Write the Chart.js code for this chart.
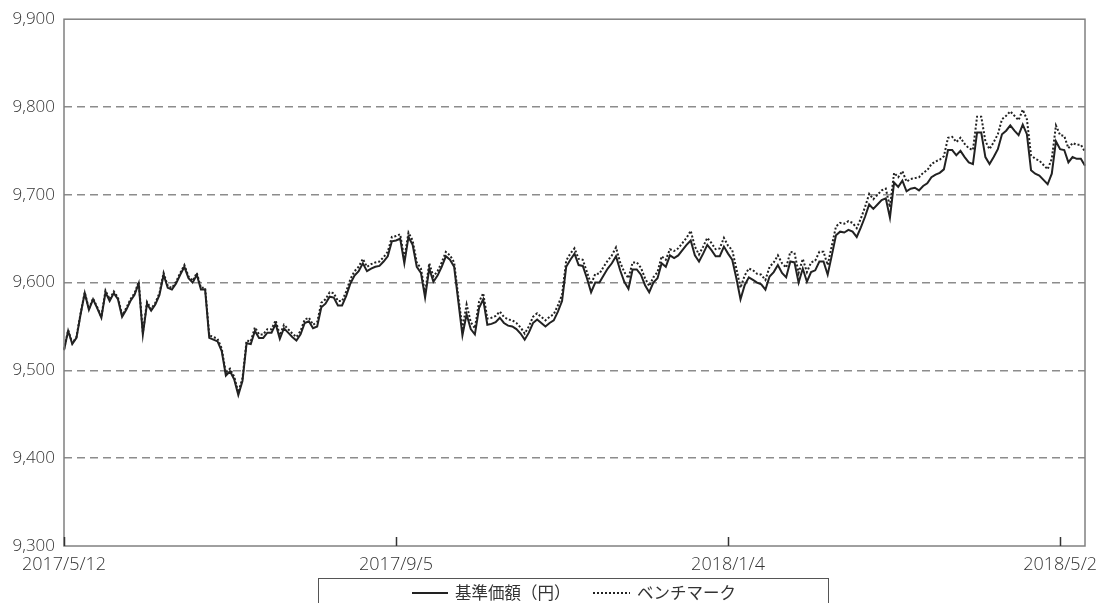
<!DOCTYPE html>
<html>
<head>
<meta charset="utf-8">
<script src="https://cdn.jsdelivr.net/npm/chart.js@4.4.0/dist/chart.umd.min.js"></script>
<style>
  html, body { margin: 0; padding: 0; background: #fff; }
</style>
</head>
<body>
<canvas id="chart" width="1101" height="603"></canvas>
<script>
// -------------------------------
// Data
// -------------------------------
const startDate = [2017, 5, 12];
// TSE closed days in the range (weekday holidays only)
const holidays = [
  "2017/7/17", "2017/8/11", "2017/9/18", "2017/10/9", "2017/11/3", "2017/11/23",
  "2018/1/1", "2018/1/2", "2018/1/3", "2018/1/8", "2018/2/12", "2018/3/21",
  "2018/4/30", "2018/5/3", "2018/5/4",
];
const tickLabels = ["2017/5/12", "2017/9/5", "2018/1/4", "2018/5/2"];
const yTicks = [9300, 9400, 9500, 9600, 9700, 9800, 9900];
const seriesNames = ["基準価額（円）", "ベンチマーク"];

const navValues = [
  9523, 9545, 9530, 9537, 9564, 9588, 9569, 9581, 9571, 9560,
  9589, 9579, 9588, 9581, 9561, 9569, 9579, 9586, 9599, 9541,
  9576, 9568, 9575, 9586, 9609, 9594, 9592, 9599, 9609, 9618,
  9605, 9600, 9609, 9592, 9592, 9537, 9535, 9533, 9522, 9494,
  9499, 9490, 9472, 9488, 9531, 9530, 9545, 9537, 9537, 9543,
  9543, 9553, 9536, 9548, 9543, 9538, 9534, 9541, 9554, 9556,
  9548, 9550, 9572, 9576, 9584, 9583, 9574, 9574, 9585, 9599,
  9608, 9613, 9622, 9613, 9616, 9618, 9619, 9624, 9630, 9647,
  9648, 9650, 9622, 9652, 9643, 9618, 9611, 9583, 9616, 9601,
  9608, 9618, 9630, 9626, 9618, 9579, 9540, 9564, 9547, 9541,
  9571, 9581, 9552, 9553, 9555, 9560, 9554, 9551, 9550, 9547,
  9542, 9535, 9543, 9554, 9558, 9554, 9550, 9554, 9557, 9567,
  9579, 9618, 9626, 9633, 9620, 9619, 9605, 9589, 9600, 9600,
  9608, 9616, 9622, 9630, 9614, 9601, 9593, 9615, 9615, 9609,
  9597, 9589, 9600, 9605, 9622, 9618, 9631, 9628, 9631, 9637,
  9643, 9648, 9631, 9624, 9633, 9643, 9637, 9630, 9630, 9641,
  9633, 9626, 9605, 9581, 9597, 9606, 9603, 9600, 9598, 9592,
  9607, 9612, 9620, 9611, 9606, 9624, 9623, 9600, 9616, 9601,
  9612, 9614, 9624, 9624, 9609, 9631, 9654, 9658, 9657, 9660,
  9658, 9652, 9663, 9675, 9689, 9684, 9689, 9694, 9696, 9674,
  9714, 9709, 9716, 9704, 9707, 9708, 9705, 9710, 9713, 9720,
  9723, 9725, 9729, 9751, 9751, 9745, 9750, 9743, 9737, 9735,
  9771, 9771, 9743, 9735, 9743, 9752, 9769, 9773, 9779, 9773,
  9768, 9780, 9769, 9728, 9724, 9722, 9717, 9712, 9724, 9761,
  9752, 9751, 9737, 9743, 9741, 9741, 9733,
];

const benchValues = [
  9524, 9546, 9531, 9538, 9565, 9589, 9570, 9582, 9572, 9561,
  9591, 9581, 9590, 9583, 9563, 9571, 9581, 9588, 9601, 9543,
  9578, 9570, 9577, 9588, 9611, 9596, 9594, 9601, 9611, 9620,
  9607, 9602, 9611, 9594, 9594, 9540, 9538, 9536, 9525, 9497,
  9502, 9493, 9475, 9491, 9534, 9533, 9549, 9541, 9541, 9547,
  9547, 9557, 9540, 9552, 9547, 9542, 9538, 9545, 9558, 9560,
  9552, 9555, 9577, 9581, 9589, 9588, 9579, 9579, 9590, 9604,
  9613, 9618, 9627, 9618, 9621, 9623, 9624, 9629, 9635, 9652,
  9653, 9655, 9627, 9657, 9648, 9623, 9616, 9588, 9622, 9607,
  9613, 9623, 9635, 9631, 9623, 9584, 9548, 9575, 9555, 9548,
  9578, 9588, 9559, 9560, 9562, 9567, 9561, 9558, 9557, 9554,
  9549, 9542, 9550, 9561, 9565, 9561, 9557, 9561, 9564, 9574,
  9586, 9625, 9633, 9639, 9627, 9626, 9612, 9598, 9610, 9610,
  9618, 9625, 9631, 9640, 9623, 9612, 9605, 9623, 9623, 9617,
  9605, 9596, 9606, 9612, 9630, 9626, 9638, 9636, 9639, 9645,
  9651, 9659, 9641, 9632, 9641, 9651, 9645, 9638, 9639, 9651,
  9642, 9637, 9616, 9594, 9608, 9616, 9614, 9610, 9609, 9603,
  9618, 9623, 9631, 9622, 9617, 9635, 9634, 9611, 9627, 9612,
  9623, 9625, 9635, 9635, 9620, 9642, 9664, 9668, 9667, 9670,
  9668, 9662, 9673, 9686, 9701, 9695, 9700, 9705, 9707, 9686,
  9725, 9720, 9727, 9715, 9718, 9719, 9720, 9725, 9728, 9735,
  9738, 9740, 9744, 9765, 9766, 9760, 9765, 9758, 9753, 9751,
  9789, 9789, 9761, 9752, 9760, 9769, 9786, 9790, 9795, 9790,
  9785, 9797, 9786, 9745, 9741, 9739, 9734, 9729, 9741, 9779,
  9768, 9767, 9753, 9759, 9757, 9757, 9749,
];

// -------------------------------
// Business-day labels
// -------------------------------
function fmt(d) {
  return d.getUTCFullYear() + "/" + (d.getUTCMonth() + 1) + "/" + d.getUTCDate();
}

function businessDays(start, count) {
  const out = [];
  const d = new Date(Date.UTC(start[0], start[1] - 1, start[2]));
  while (out.length < count) {
    const wd = d.getUTCDay();
    const s = fmt(d);
    if (wd !== 0 && wd !== 6 && !holidays.includes(s)) out.push(s);
    d.setUTCDate(d.getUTCDate() + 1);
  }
  return out;
}

const labels = businessDays(startDate, navValues.length);

// -------------------------------
// Plugins: frame, inner tick marks, boxed legend
// -------------------------------
const framePlugin = {
  id: "frame",
  afterDatasetsDraw(chart) {
    const { ctx, chartArea: a, scales } = chart;
    ctx.save();
    ctx.strokeStyle = "#808080";
    ctx.lineWidth = 1.5;
    ctx.strokeRect(a.left, a.top, a.right - a.left, a.bottom - a.top);

    // small tick marks pointing up into the plot
    ctx.strokeStyle = "#333";
    ctx.lineWidth = 1.5;
    tickLabels.forEach((t) => {
      const i = labels.indexOf(t);
      if (i < 0) return;
      const x = Math.round(scales.x.getPixelForValue(i)) + 0.5;
      ctx.beginPath();
      ctx.moveTo(x, a.bottom);
      ctx.lineTo(x, a.bottom - 9);
      ctx.stroke();
    });
    ctx.restore();
  },
};

const legendBoxPlugin = {
  id: "legendBox",
  afterDraw(chart) {
    const { ctx } = chart;
    const ds = chart.data.datasets;
    ctx.save();
    ctx.strokeStyle = "#555";
    ctx.lineWidth = 1;
    ctx.strokeRect(318.5, 578.5, 510, 40);

    ctx.font = '16.5px "Noto Sans CJK JP", sans-serif';
    ctx.fillStyle = "#333";
    ctx.textBaseline = "middle";
    const items = [
      { x1: 412, x2: 448, tx: 455, d: ds[0] },
      { x1: 593, x2: 630, tx: 637, d: ds[1] },
    ];
    items.forEach((it) => {
      ctx.strokeStyle = it.d.borderColor;
      ctx.lineWidth = it.d.borderWidth;
      ctx.setLineDash(it.d.borderDash || []);
      ctx.beginPath();
      ctx.moveTo(it.x1, 593);
      ctx.lineTo(it.x2, 593);
      ctx.stroke();
      ctx.setLineDash([]);
      ctx.fillText(it.d.label, it.tx, 593);
    });
    ctx.restore();
  },
};

// -------------------------------
// Chart
// -------------------------------
Chart.defaults.font.family = '"Open Sans", "Noto Sans", sans-serif';
Chart.defaults.color = "#333";

new Chart(document.getElementById("chart"), {
  type: "line",
  data: {
    labels: labels,
    datasets: [
      {
        label: seriesNames[0],
        data: navValues,
        borderColor: "#222",
        borderWidth: 2,
        pointRadius: 0,
        tension: 0,
      },
      {
        label: seriesNames[1],
        data: benchValues,
        borderColor: "#222",
        borderWidth: 2,
        borderDash: [2, 2],
        pointRadius: 0,
        tension: 0,
      },
    ],
  },
  options: {
    responsive: false,
    animation: false,
    layout: { padding: { top: 17, right: 16, bottom: 27, left: 0 } },
    plugins: {
      legend: { display: false },
      tooltip: { enabled: false },
    },
    scales: {
      x: {
        type: "category",
        offset: false,
        border: { display: false },
        grid: { display: false, drawTicks: false },
        ticks: {
          autoSkip: false,
          maxRotation: 0,
          padding: 8,
          font: { size: 18, weight: "300" },
          callback: (v) => (tickLabels.includes(labels[v]) ? labels[v] : ""),
        },
        afterFit: (s) => { s.height = 30; },
      },
      y: {
        min: 9300,
        max: 9900,
        border: { display: false, dash: [8, 5] },
        grid: {
          drawTicks: false,
          lineWidth: 1.5,
          color: (c) => (c.tick.value === 9300 || c.tick.value === 9900 ? "rgba(0,0,0,0)" : "#8c8c8c"),
        },
        afterBuildTicks: (s) => { s.ticks = yTicks.map((v) => ({ value: v })); },
        ticks: {
          padding: 9,
          font: { size: 17, weight: "300" },
          callback: (v) => v.toLocaleString("en-US"),
        },
        afterFit: (s) => { s.width = 64; },
      },
    },
  },
  plugins: [framePlugin, legendBoxPlugin],
});
</script>
</body>
</html>
